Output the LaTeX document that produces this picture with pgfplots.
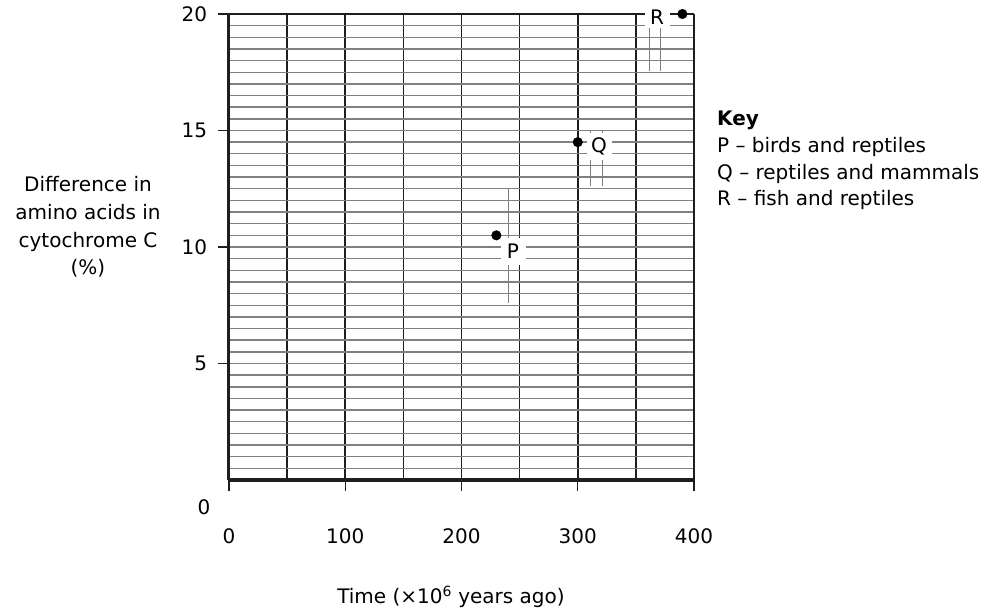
\documentclass[border=0pt]{standalone}
\usepackage{fontspec}
\setmainfont{DejaVu Sans}
\usepackage{pgfplots}
\pgfplotsset{compat=1.18}
\definecolor{gridgray}{HTML}{808080}
\definecolor{axisdark}{HTML}{1E1E1E}
\begin{document}
\fontsize{20bp}{26.7bp}\selectfont
\begin{tikzpicture}
\begin{axis}[
  at={(0,0)}, anchor=south west,
  scale only axis, width=465bp, height=466bp,
  xmin=0, xmax=400, ymin=0, ymax=20,
  clip=false,
  axis x line*=bottom, axis y line*=left,
  x axis line style={line width=4bp, axisdark},
  y axis line style={line width=3bp, axisdark},
  xtick={0,100,200,300,400},
  minor xtick={50,150,250,350},
  ytick={5,10,15,20},
  minor ytick={0,0.5,...,20},
  tick align=outside,
  major tick length=11bp,
  minor tick length=0pt,
  tick style={axisdark, line width=1.3bp},
  grid=both,
  major x grid style={axisdark, line width=1.7bp},
  minor x grid style={axisdark, line width=1.7bp},
  major y grid style={gridgray, line width=1.4bp},
  minor y grid style={gridgray, line width=1.4bp},
  /pgf/number format/assume math mode=true,
  ticklabel style={font=\fontsize{20bp}{22bp}\selectfont},
  xticklabel style={yshift=-31bp},
  yticklabel style={xshift=-4bp},
]
% thin marker lines near the labels
\addplot[gridgray, line width=1bp] coordinates {(240.6,7.6) (240.6,12.5)};
\addplot[gridgray, line width=1bp] coordinates {(311,12.6) (311,15.0)};
\addplot[gridgray, line width=1bp] coordinates {(321,12.6) (321,15.0)};
\addplot[gridgray, line width=1bp] coordinates {(361.5,17.55) (361.5,19.4)};
\addplot[gridgray, line width=1bp] coordinates {(371,17.55) (371,19.4)};
% top and right frame
\addplot[axisdark, line width=2bp] coordinates {(0,20) (400,20)};
\addplot[axisdark, line width=2bp] coordinates {(400,0) (400,20)};
% data points
\addplot[only marks, mark=*, mark size=4.8bp, black] coordinates {
  (230,10.5) (300,14.5) (390,20)
};
\node[fill=white, inner sep=0pt, minimum width=25bp, minimum height=27bp] at (axis cs:244.3,9.8) {P};
\node[fill=white, inner sep=0pt, minimum width=25bp, minimum height=27bp] at (axis cs:318.3,14.3) {Q};
\node[fill=white, inner sep=0pt, minimum width=25bp, minimum height=20bp] at (axis cs:368.2,19.87) {R};
\end{axis}
% y axis label
\node[align=center, inner sep=0pt, font=\fontsize{20bp}{27.7bp}\selectfont] at (-141bp,253bp) {Difference in\\amino acids in\\cytochrome C\\(\%)};
% lone zero of the y axis
\node[inner sep=0pt] at (-25bp,-27bp) {0};
% x axis label
\node[inner sep=0pt] at (222bp,-117bp) {Time (×10\textsuperscript{6} years ago)};
% key
\node[align=left, inner sep=0pt, anchor=north west] at (488bp,369bp)
  {\textbf{Key}\\P – birds and reptiles\\Q – reptiles and mammals\\R – fish and reptiles};
\pgfresetboundingbox
\path (-229bp,-130bp) rectangle (757bp,480bp);
\end{tikzpicture}
\end{document}
